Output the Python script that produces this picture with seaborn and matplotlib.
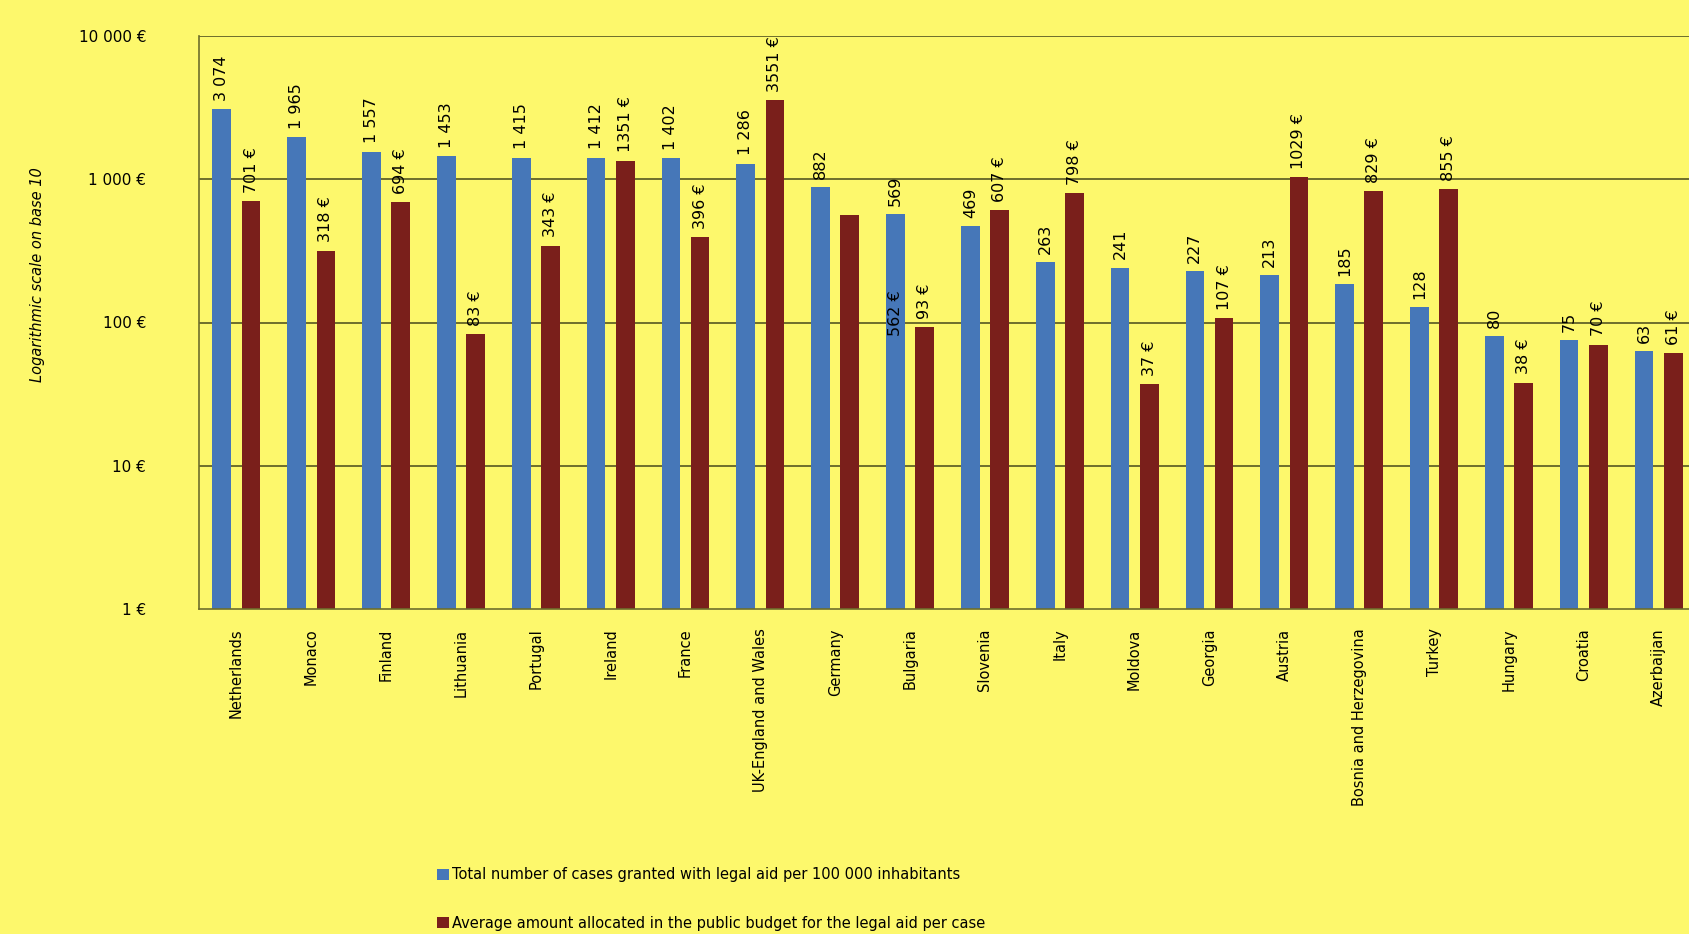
import matplotlib
matplotlib.use("Agg")
import matplotlib.pyplot as plt
import seaborn as sns
import pandas as pd
import numpy as np

countries = ["Netherlands", "Monaco", "Finland", "Lithuania", "Portugal", "Ireland",
             "France", "UK-England and Wales", "Germany", "Bulgaria", "Slovenia", "Italy",
             "Moldova", "Georgia", "Austria", "Bosnia and Herzegovina", "Turkey",
             "Hungary", "Croatia", "Azerbaijan"]
cases = [3074, 1965, 1557, 1453, 1415, 1412, 1402, 1286, 882, 569, 469, 263,
         241, 227, 213, 185, 128, 80, 75, 63]
amount = [701, 318, 694, 83, 343, 1351, 396, 3551, 562, 93, 607, 798,
          37, 107, 1029, 829, 855, 38, 70, 61]
series_names = ["Total number of cases granted with legal aid per 100 000 inhabitants",
                "Average amount allocated in the public budget for the legal aid per case"]
ytick_vals = [1, 10, 100, 1000, 10000]
ytick_labels = ["1 €", "10 €", "100 €", "1 000 €", "10 000 €"]

BG = "#fdf86c"
BLUE = "#4677b8"
RED = "#7a1f1b"
GRID = "#6e6e2c"

df = pd.DataFrame({
    "country": countries * 2,
    "value": cases + amount,
    "series": [series_names[0]] * len(countries) + [series_names[1]] * len(countries),
})

sns.set_theme(style="white")
plt.rcParams["font.family"] = ["DejaVu Sans"]
plt.rcParams["text.color"] = "black"
plt.rcParams["xtick.color"] = "black"
plt.rcParams["ytick.color"] = "black"

fig = plt.figure(figsize=(16.9, 9.34), dpi=100, facecolor=BG)
W, H = 1690, 934
left, right, top, bottom = 199, 1690, 36, 609
ax = fig.add_axes([left / W, 1 - bottom / H, (right - left) / W, (bottom - top) / H])
ax.set_facecolor(BG)

sns.barplot(data=df, x="country", y="value", hue="series", order=countries,
            hue_order=series_names, palette=[BLUE, RED], width=0.78, gap=0.36,
            saturation=1, linewidth=0, ax=ax, legend=True)
ax.set_yscale("log")
ax.set_ylim(1, 10000)
ax.set_xlim(-0.5, 19.42)

ax.set_yticks(ytick_vals)
ax.set_yticklabels(ytick_labels, fontsize=11)
ax.yaxis.set_minor_locator(matplotlib.ticker.NullLocator())
ax.tick_params(axis="y", length=0, pad=38, labelcolor="black")
ax.tick_params(axis="x", length=0, pad=14, labelcolor="black")
for t in ax.get_xticklabels():
    t.set_rotation(90)
    t.set_fontsize(10.5)
    t.set_va("top")
    t.set_ha("center")

for yv in ytick_vals[1:]:
    ax.axhline(yv, color=GRID, lw=1.4, zorder=0)
for s in ["top", "right"]:
    ax.spines[s].set_visible(False)
ax.spines["left"].set_color(GRID)
ax.spines["bottom"].set_color(GRID)
ax.spines["left"].set_linewidth(1.2)
ax.spines["bottom"].set_linewidth(1.2)
ax.set_xlabel("")
ax.set_ylabel("")

# value labels
cont_blue, cont_red = ax.containers[0], ax.containers[1]
blue_labels = [f"{v:,}".replace(",", " ") for v in cases]
red_labels = [f"{v} €" for v in amount]
red_labels[8] = ""
ax.bar_label(cont_blue, labels=blue_labels, rotation=90, padding=6, fontsize=11.5, color="black")
ax.bar_label(cont_red, labels=red_labels, rotation=90, padding=6, fontsize=11.5, color="black")
# displaced Germany label (as in the original, drawn over Bulgaria's bar)
bx = cont_blue[9].get_x() + cont_blue[9].get_width() / 2
ax.text(bx, 116, f"{amount[8]} €", rotation=90, ha="center", va="center",
        fontsize=11.5, color="black")

# y axis title
fig.text(38 / W, 1 - 275 / H, "Logarithmic scale on base 10", rotation=90,
         ha="center", va="center", fontsize=10.5, style="italic", color="black")

# legend
handles, labels = ax.get_legend_handles_labels()
ax.get_legend().remove()
leg = fig.legend(handles, labels, loc="upper left", bbox_to_anchor=(430 / W, 1 - 860 / H),
                 frameon=False, fontsize=10.5, labelspacing=2.3, handlelength=0.8,
                 handleheight=0.8, handletextpad=0.2, borderpad=0)
for t in leg.get_texts():
    t.set_color("black")

fig.savefig("out.png", dpi=100, facecolor=BG)
